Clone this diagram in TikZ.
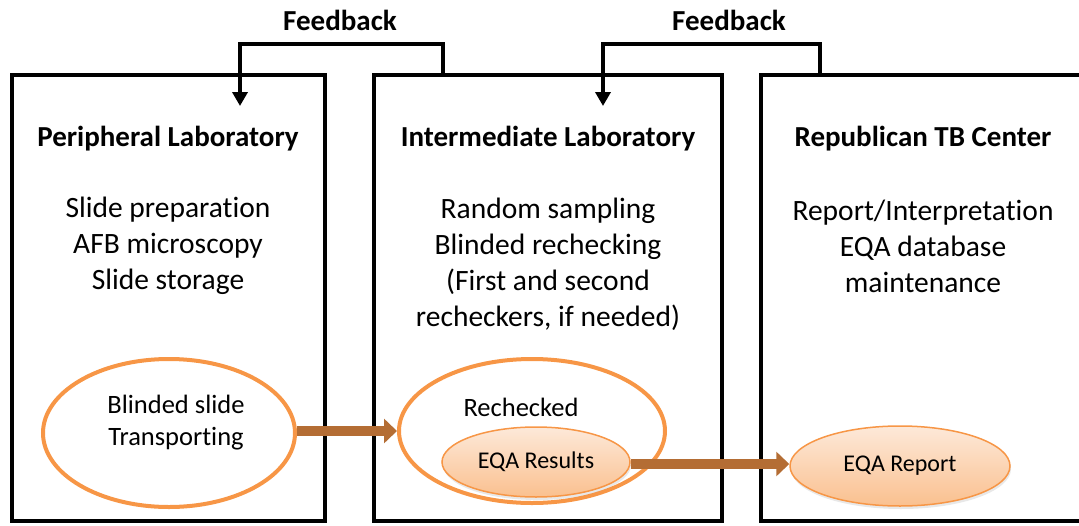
\documentclass[tikz,border=0pt]{standalone}
\usepackage{fontspec}
\setmainfont{Carlito}[Ligatures=NoCommon]
\usetikzlibrary{shapes.geometric,arrows.meta,shadows}
\definecolor{orng}{HTML}{F79646}
\definecolor{brwn}{HTML}{B46D34}
\definecolor{lightor}{HTML}{FDE9D9}
\definecolor{midor}{HTML}{FAC08F}
\tikzset{
  labbox/.style={draw=black,line width=4pt,rectangle,minimum width=#1,minimum height=446pt,inner sep=0pt},
  title/.style={font=\fontsize{29}{34}\selectfont\bfseries},
  body/.style={font=\fontsize{29.5}{36}\selectfont,align=center},
  ring/.style={draw=orng,line width=4pt,ellipse,inner sep=0pt},
  pill/.style={draw=orng,line width=1.5pt,ellipse,inner sep=0pt,top color=lightor,bottom color=midor,
     drop shadow={shadow xshift=1pt,shadow yshift=-3pt,opacity=0.18},font=\fontsize{24}{28}\selectfont},
  fb/.style={draw=black,line width=4pt},
  fbarrow/.style={fb,-{Triangle[width=15pt,length=14pt]}},
  flow/.style={draw=brwn,line width=10pt,-{Triangle[width=24pt,length=13pt]}},
  fblabel/.style={font=\fontsize{29}{32}\selectfont\bfseries}
}
\begin{document}
\begin{tikzpicture}[x=1pt,y=-1pt]
\useasboundingbox (0,0) rectangle (1079,525);
\begin{scope}
\clip (0,0) rectangle (1079,525);
% boxes
\node[labbox=313pt] (b1) at (168.5,298) {};
\node[labbox=348pt] (b2) at (548,298) {};
\node[labbox=329pt] (b3) at (925.5,298) {};
\end{scope}
% titles
\node[title] (t1) at (168,139) {Peripheral Laboratory};
\node[title] (t2) at (548,139) {Intermediate Laboratory};
\node[title] (t3) at (923,139) {Republican TB Center};
% bodies
\node[body] (d1) at (168,246) {Slide preparation\\AFB microscopy\\Slide storage};
\node[body] (d2) at (548,264) {Random sampling\\Blinded rechecking\\(First and second\\recheckers, if needed)};
\node[body] (d3) at (923,246) {Report/Interpretation\\EQA database\\maintenance};
% feedback
\coordinate (f1s) at (443,75);
\coordinate (f1e) at (240,106);
\coordinate (f2s) at (820,75);
\coordinate (f2e) at (603,106);
\draw[fbarrow] (f1s) -- (443,44) -- (240,44) -- (f1e);
\draw[fbarrow] (f2s) -- (820,44) -- (603,44) -- (f2e);
\node[fblabel] (l1) at (340,20) {Feedback};
\node[fblabel] (l2) at (729,20) {Feedback};
% ellipses
\node[ring,minimum width=252pt,minimum height=148pt] (e1) at (169,433) {};
\node[font=\fontsize{26.5}{32}\selectfont,align=center] (e1t) at (176,423) {Blinded slide\\Transporting};
\node[ring,minimum width=266pt,minimum height=144pt] (e2) at (532,431) {};
\node[font=\fontsize{26.5}{30}\selectfont] (e2t) at (521,407) {Rechecked};
\node[pill,minimum width=188pt,minimum height=70pt] (r1) at (536,462) {EQA Results};
\node[pill,minimum width=220pt,minimum height=80pt] (r2) at (900,466) {EQA Report};
% flows
\draw[flow] (e1.east |- 0,431) -- (e2.west |- 0,431);
\draw[flow] (r1.east |- 0,464) -- (r2.west |- 0,464);
\end{tikzpicture}
\end{document}
